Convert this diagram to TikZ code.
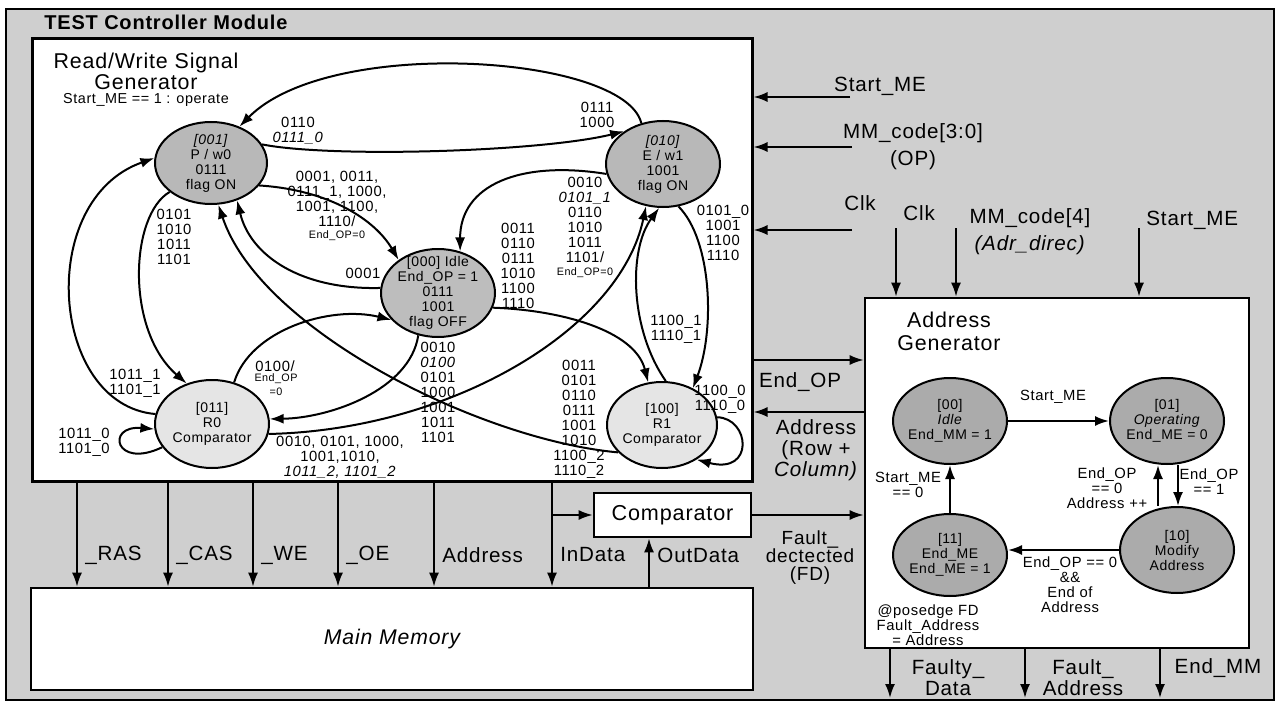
\documentclass[tikz,border=0pt]{standalone}
\usepackage{fontspec}
\setmainfont{Liberation Sans}[LetterSpace=4]
\usetikzlibrary{shapes.geometric,arrows.meta}

\tikzset{
 st/.style={ellipse, draw, line width=1pt, inner sep=0pt, minimum width=57pt, minimum height=43pt},
 tx/.style={font=\fontsize{7}{7.5}\selectfont, align=center, inner sep=0pt},
 lb/.style={font=\fontsize{7.4}{7.5}\selectfont, align=center, inner sep=0pt},
 sm/.style={font=\fontsize{5.4}{7}\selectfont, align=center, inner sep=0pt},
 sg/.style={font=\fontsize{10.3}{10.5}\selectfont, align=center, inner sep=0pt},
 hd/.style={font=\fontsize{10.7}{11.5}\selectfont, align=center, inner sep=0pt},
 ar/.style={line width=1pt, -{Latex[length=7pt,width=5pt]}},
 blk/.style={draw, line width=1.3pt, fill=white, inner sep=0pt},
}

\begin{document}
\begin{tikzpicture}[x=0.5pt,y=-0.5pt]
 \useasboundingbox (0,0) rectangle (1279,706);
 \draw[line width=1.2pt, fill=black!19] (6,9) rectangle (1274,700);
 \node[anchor=west, inner sep=0pt, font=\fontsize{10}{11}\selectfont\bfseries] (module) at (44,22) {TEST Controller Module};

 \node[blk, line width=1.5pt, minimum width=360pt, minimum height=221pt] (rw) at (392,260) {};
 \node[blk, minimum width=192pt, minimum height=175pt] (ag) at (1057,473) {};
 \node[blk, minimum width=361pt, minimum height=51pt, font=\fontsize{10.6}{11}\selectfont\itshape] (mm) at (392,639) {Main Memory};
 \node[blk, minimum width=78.5pt, minimum height=22pt, font=\fontsize{10.8}{11}\selectfont] (comp) at (672.5,515) {Comparator};

 \node[hd] (rwt1) at (146,63) {Read/Write Signal};
 \node[hd] (rwt2) at (146,82) {Generator};
 \node[font=\fontsize{7.2}{8}\selectfont, inner sep=0pt] (rwt3) at (146,100) {Start\_ME == 1 : operate};

 \node[st, fill=black!28, minimum width=56pt, minimum height=41pt, label={[tx]center:{\textit{[001]}\\P / w0\\0111\\flag ON}}] (pw0) at (211,163) {};
 \node[st, fill=black!28, label={[tx]center:{\textit{[010]}\\E / w1\\1001\\flag ON}}] (ew1) at (663,164) {};
 \node[st, fill=black!26, minimum height=44pt, label={[tx]center:{[000] Idle\\End\_OP = 1\\0111\\1001\\flag OFF}}] (idle) at (438,293) {};
 \node[st, fill=black!10, minimum height=44pt, label={[tx]center:{[011]\\R0\\Comparator}}] (rz) at (212,424) {};
 \node[st, fill=black!10, minimum width=55pt, label={[tx]center:{[100]\\R1\\Comparator}}] (ro) at (662,425) {};

 \draw[ar] (ew1.118) .. controls (625,55) and (330,35) .. (pw0.52);
 \draw[ar] (pw0.20) .. controls (330,158) and (540,152) .. (ew1.140);
 \draw[ar] (pw0.-25) .. controls (330,190) and (375,220) .. (idle.140);
 \draw[ar] (idle.175) .. controls (300,290) and (250,255) .. (pw0.-55);
 \draw[ar] (ro.212) .. controls (480,440) and (260,330) .. (pw0.-80);
 \draw[ar] (rz.170) .. controls (50,405) and (35,200) .. (pw0.175);
 \draw[ar] (pw0.215) .. controls (130,215) and (125,330) .. (rz.122);
 \draw[ar] (rz.205) .. controls (115,470) and (105,425) .. (rz.185);
 \draw[ar] (rz.62) .. controls (250,330) and (330,305) .. (idle.210);
 \draw[ar] (idle.245) .. controls (410,390) and (330,418) .. (rz.5);
 \draw[ar] (rz.-10) .. controls (450,430) and (620,330) .. (ew1.248);
 \draw[ar] (ew1.190) .. controls (520,160) and (460,185) .. (idle.62);
 \draw[ar] (idle.-15) .. controls (560,310) and (635,330) .. (ro.108);
 \draw[ar] (ew1.-70) .. controls (712,240) and (715,330) .. (ro.50);
 \draw[ar] (ro.85) .. controls (630,330) and (628,250) .. (ew1.-95);
 \draw[ar] (ro.8) .. controls (750,418) and (755,475) .. (ro.-45);

 \node[lb] (l1) at (597,114.5) {0111\\1000};
 \node[lb] (l2) at (298,130.5) {0110\\\textit{0111\_0}};
 \node[lb] (l3) at (337,198.5) {0001, 0011,\\0111\_1, 1000,\\1001, 1100,\\1110/};
 \node[sm] (l3b) at (337,236) {End\_OP=0};
 \node[lb] (l4) at (363,273) {0001};
 \node[lb] (l5) at (174,237) {0101\\1010\\1011\\1101};
 \node[lb] (l6) at (135,383.5) {1011\_1\\1101\_1};
 \node[lb] (l7) at (84,442.5) {1011\_0\\1101\_0};
 \node[lb] (l8) at (275,366) {0100/};
 \node[sm] (l8b) at (276,385) {End\_OP\\=0};
 \node[lb] (l9) at (438,392.5) {0010\\\textit{0100}\\0101\\1000\\1001\\1011\\1101};
 \node[lb] (l10) at (340,457) {0010, 0101, 1000,\\1001,1010,\\\textit{1011\_2, 1101\_2}};
 \node[lb] (l11) at (518,265.5) {0011\\0110\\0111\\1010\\1100\\1110};
 \node[lb] (l12) at (585,219.5) {0010\\\textit{0101\_1}\\0110\\1010\\1011\\1101/};
 \node[sm] (l12b) at (585,273) {End\_OP=0};
 \node[lb] (l13) at (579,419.5) {0011\\0101\\0110\\0111\\1001\\1010\\1100\_2\\1110\_2};
 \node[lb] (l14) at (723,232.5) {0101\_0\\1001\\1100\\1110};
 \node[lb] (l15) at (676,329.5) {1100\_1\\1110\_1};
 \node[lb] (l16) at (720,399) {1100\_0\\1110\_0};

 \coordinate (smA) at (850,97);
 \coordinate (mmA) at (852,147);
 \coordinate (clkA) at (852,230);
 \draw[ar] (smA) -- (smA -| rw.east);
 \draw[ar] (mmA) -- (mmA -| rw.east);
 \draw[ar] (clkA) -- (clkA -| rw.east);
 \node[sg] (smAl) at (880,86) {Start\_ME};
 \node[sg] (mmAl) at (913,146.5) {MM\_code[3:0]\\[3pt](OP)};
 \node[sg] (clkAl) at (860,203) {Clk};

 \coordinate (clkB) at (896,228);
 \coordinate (mmB) at (956,228);
 \coordinate (smB) at (1139,228);
 \draw[ar] (clkB) -- (clkB |- ag.north);
 \draw[ar] (mmB) -- (mmB |- ag.north);
 \draw[ar] (smB) -- (smB |- ag.north);
 \node[sg, anchor=west] (clkBl) at (903,213) {Clk};
 \node[sg] (mmBl) at (1030,232) {MM\_code[4]\\[3pt]\textit{(Adr\_direc)}};
 \node[sg, anchor=west] (smBl) at (1146,220) {Start\_ME};

 \coordinate (eopY) at (800,360);
 \coordinate (adrY) at (800,412);
 \draw[ar] (eopY -| rw.east) -- (eopY -| ag.west);
 \draw[ar] (adrY -| ag.west) -- (adrY -| rw.east);
 \node[sg] (eopl) at (800,382) {End\_OP};
 \node[sg] (adrl) at (816,450) {Address\\(Row +\\\textit{Column)}};

 \node[hd] (agt) at (949,331.5) {Address\\Generator};
 \node[st, fill=black!33, label={[tx]center:{[00]\\\textit{Idle}\\End\_MM = 1}}] (agidle) at (950,421) {};
 \node[st, fill=black!33, label={[tx]center:{[01]\\\textit{Operating}\\End\_ME = 0}}] (agop) at (1167,421) {};
 \node[st, fill=black!33, minimum height=41pt, label={[tx]center:{[11]\\End\_ME\\End\_ME = 1}}] (agend) at (950,555) {};
 \node[st, fill=black!33, label={[tx]center:{[10]\\Modify\\Address}}] (agmod) at (1177,550) {};
 \coordinate (upx) at (1158,0);
 \coordinate (dnx) at (1178,0);
 \draw[ar] (agidle.east) -- (agop.west);
 \draw[ar] (agend.north) -- (agidle.south);
 \draw[ar] (agmod.north -| upx) -- (agop.south -| upx);
 \draw[ar] (agop.south -| dnx) -- (agmod.north -| dnx);
 \draw[ar] (agmod.west) -- (agmod.west -| agend.east);
 \node[lb] (agl1) at (1053,397) {Start\_ME};
 \node[lb] (agl2) at (908,484.5) {Start\_ME\\== 0};
 \node[lb] (agl3) at (1107,488) {End\_OP\\== 0\\Address ++};
 \node[lb] (agl4) at (1209,482) {End\_OP\\== 1};
 \node[lb] (agl5) at (1070,585) {End\_OP == 0\\\&\&\\End of\\Address};
 \node[lb] (agl6) at (928,625) {@posedge FD\\Fault\_Address\\= Address};

 \coordinate (fdo) at (890,698);
 \coordinate (fao) at (1025,698);
 \coordinate (emo) at (1160,698);
 \draw[ar] (fdo |- ag.south) -- (fdo);
 \draw[ar] (fao |- ag.south) -- (fao);
 \draw[ar] (emo |- ag.south) -- (emo);
 \node[sg] (fdol) at (948,677.5) {Faulty\_\\Data};
 \node[sg] (faol) at (1083,677.5) {Fault\_\\Address};
 \node[sg] (emol) at (1218,668) {End\_MM};

 \foreach \n/\x/\t in {ras/77/\_RAS, cas/168/\_CAS, we/253/\_WE, oe/338/\_OE, adr/434/Address, ind/552/InData}{
  \coordinate (\n) at (\x,555);
  \draw[ar] (\n |- rw.south) -- (\n |- mm.north);
  \node[sg, anchor=west] (\n-l) at ([xshift=4pt]\n) {\t};
 }
 \coordinate (outd) at (649,555);
 \draw[ar] (ind |- comp.west) -- (comp.west);
 \draw[ar] (outd |- mm.north) -- (outd |- comp.south);
 \node[sg, anchor=west] (outdl) at ([xshift=4pt]outd) {OutData};
 \draw[ar] (comp.east) -- (comp.east -| ag.west);
 \node[font=\fontsize{9.5}{9}\selectfont, align=center, inner sep=0pt] (fltl) at (810,557.5) {Fault\_\\dectected\\(FD)};
\end{tikzpicture}
\end{document}
